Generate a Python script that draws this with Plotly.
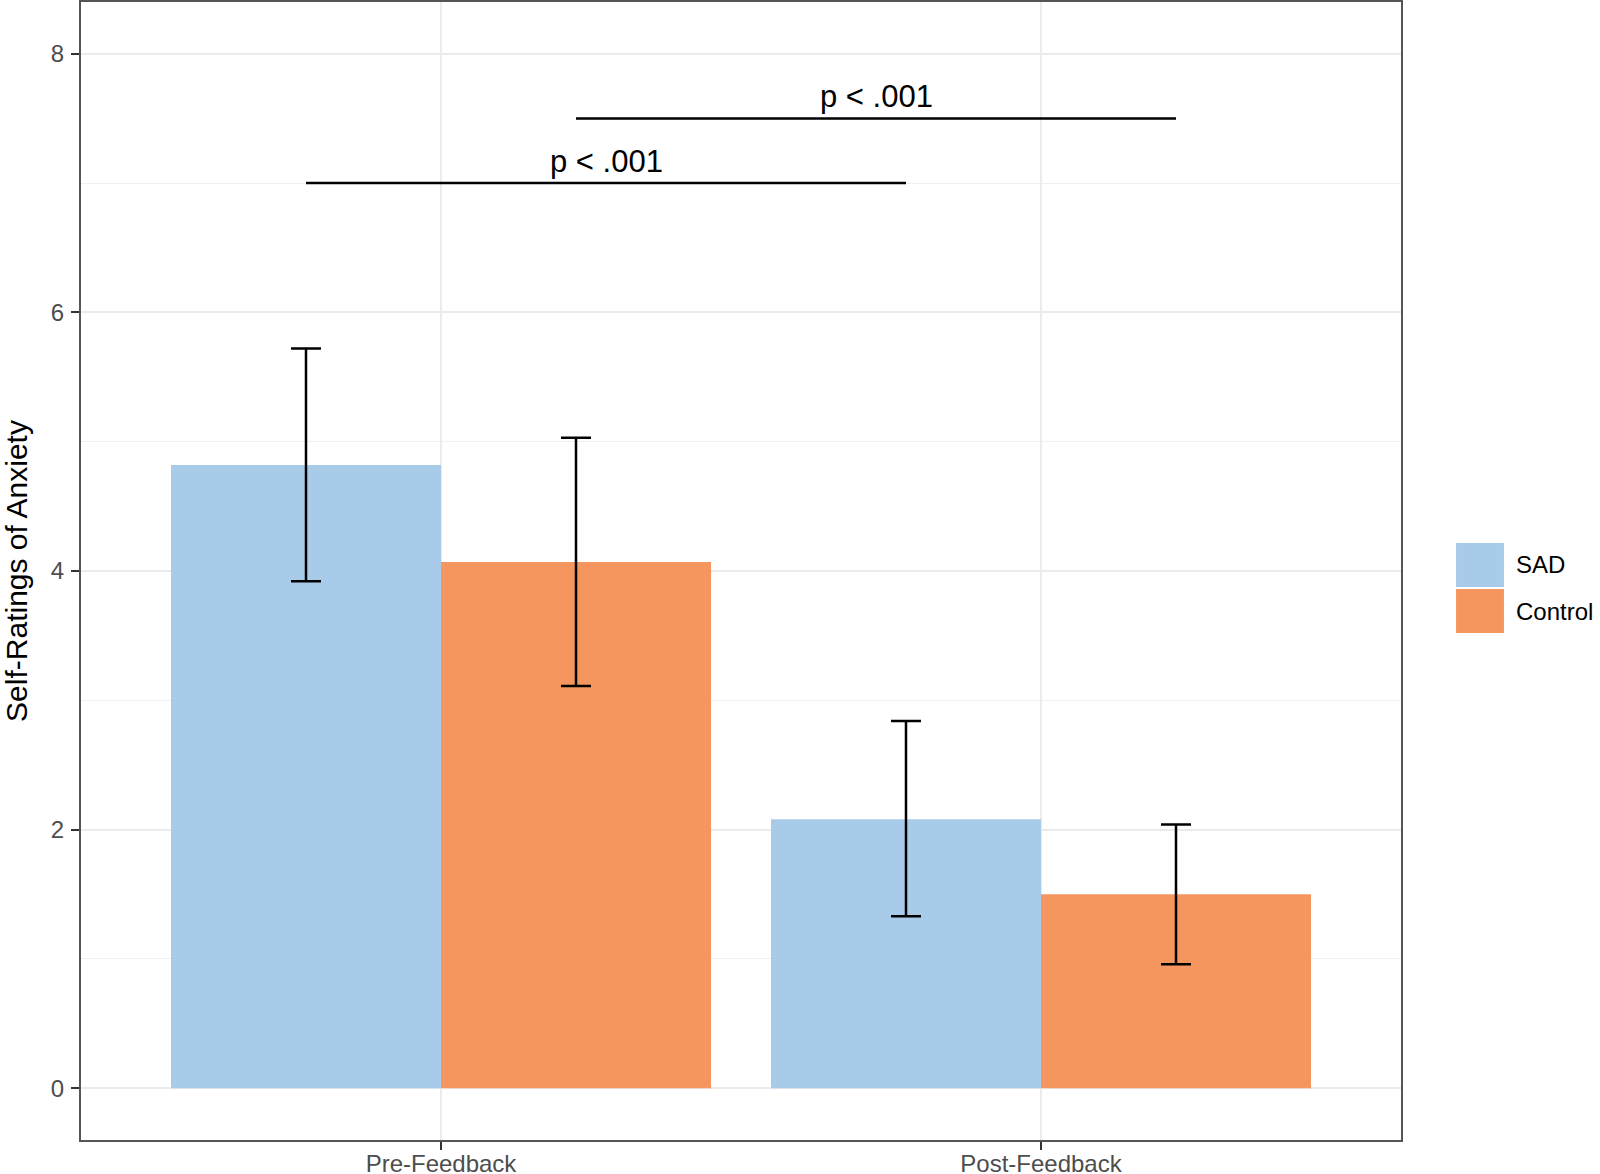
import plotly.graph_objects as go

# ---- data ----
categories = ["Pre-Feedback", "Post-Feedback"]
groups = ["SAD", "Control"]
sad_mean = [4.82, 2.08]
sad_upper = [5.72, 2.84]
sad_lower = [3.92, 1.33]
control_mean = [4.07, 1.50]
control_upper = [5.03, 2.04]
control_lower = [3.11, 0.96]
group_colors = ["#A9CBEA", "#F6965F"]

# significance comparisons: (group index, y level, label)
sig_groups = [0, 1]
sig_levels = [7.0, 7.5]
sig_labels = ["p < .001", "p < .001"]

y_tick_vals = [0, 2, 4, 6, 8]
y_minor_vals = [1, 3, 5, 7]

FONT = "Liberation Sans, Arial, Helvetica, sans-serif"
bar_group_width = 0.9
dodge = bar_group_width / 4  # offset of each bar centre from category centre

means = [sad_mean, control_mean]
uppers = [sad_upper, control_upper]
lowers = [sad_lower, control_lower]

fig = go.Figure()
for gi, g in enumerate(groups):
    m = means[gi]
    fig.add_trace(go.Bar(
        name=g,
        x=categories,
        y=m,
        marker=dict(color=group_colors[gi], line=dict(width=0)),
        error_y=dict(
            type="data",
            symmetric=False,
            array=[u - v for u, v in zip(uppers[gi], m)],
            arrayminus=[v - l for v, l in zip(m, lowers[gi])],
            color="black",
            thickness=2.5,
            width=15,
        ),
        showlegend=False,
    ))

shapes = []
annotations = []
offsets = [-dodge, dodge]
for gi, lvl, lab in zip(sig_groups, sig_levels, sig_labels):
    x0 = 0 + offsets[gi]
    x1 = 1 + offsets[gi]
    shapes.append(dict(type="line", xref="x", yref="y", x0=x0, x1=x1, y0=lvl, y1=lvl,
                       line=dict(color="black", width=2.5)))
    annotations.append(dict(x=(x0 + x1) / 2, y=lvl, xref="x", yref="y", text=lab,
                            showarrow=False, yanchor="bottom", xanchor="center",
                            yshift=2, font=dict(family=FONT, size=31, color="black")))

# manual legend (ggplot style keys)
key_x0, key_x1 = 1.0417, 1.078
key_rows = [(0.5246, 0.4860), (0.4842, 0.4455)]
for gi, (ya, yb) in enumerate(key_rows):
    shapes.append(dict(type="rect", xref="paper", yref="paper", x0=key_x0, x1=key_x1,
                       y0=yb, y1=ya, fillcolor=group_colors[gi], line=dict(width=0)))
    annotations.append(dict(x=1.0856, y=(ya + yb) / 2, xref="paper", yref="paper",
                            text=groups[gi], showarrow=False, xanchor="left", yanchor="middle",
                            font=dict(family=FONT, size=24, color="black")))

fig.update_layout(
    width=1600, height=1174,
    margin=dict(l=81, r=199, t=2, b=34, autoexpand=False),
    paper_bgcolor="white", plot_bgcolor="white",
    barmode="group", bargap=1 - bar_group_width, bargroupgap=0,
    font=dict(family=FONT, size=24, color="#4D4D4D"),
    shapes=shapes, annotations=annotations,
)
fig.update_xaxes(
    type="category", range=[-0.6, 1.6],
    showgrid=True, gridcolor="#EBEBEB", gridwidth=2,
    showline=True, mirror=True, linecolor="#555555", linewidth=2,
    ticks="outside", ticklen=8, tickwidth=2, tickcolor="#333333",
    tickfont=dict(family=FONT, size=24, color="#4D4D4D"),
    ticklabelstandoff=-7,
    zeroline=False,
)
fig.update_yaxes(
    range=[-0.4, 8.4], tickvals=y_tick_vals,
    showgrid=True, gridcolor="#EBEBEB", gridwidth=2,
    minor=dict(tickvals=y_minor_vals, showgrid=True, gridcolor="#EFEFEF", gridwidth=1, ticks=""),
    showline=True, mirror=True, linecolor="#555555", linewidth=2,
    ticks="outside", ticklen=8, tickwidth=2, tickcolor="#333333",
    tickfont=dict(family=FONT, size=24, color="#4D4D4D"),
    ticklabelstandoff=2,
    zeroline=False,
    title=dict(text="Self-Ratings of Anxiety", font=dict(family=FONT, size=30, color="black"), standoff=15),
    automargin=False,
)

fig.write_html(
    "out.html",
    config={"displayModeBar": False},
    post_script="document.body.style.margin='0';document.body.style.overflow='hidden';",
)
